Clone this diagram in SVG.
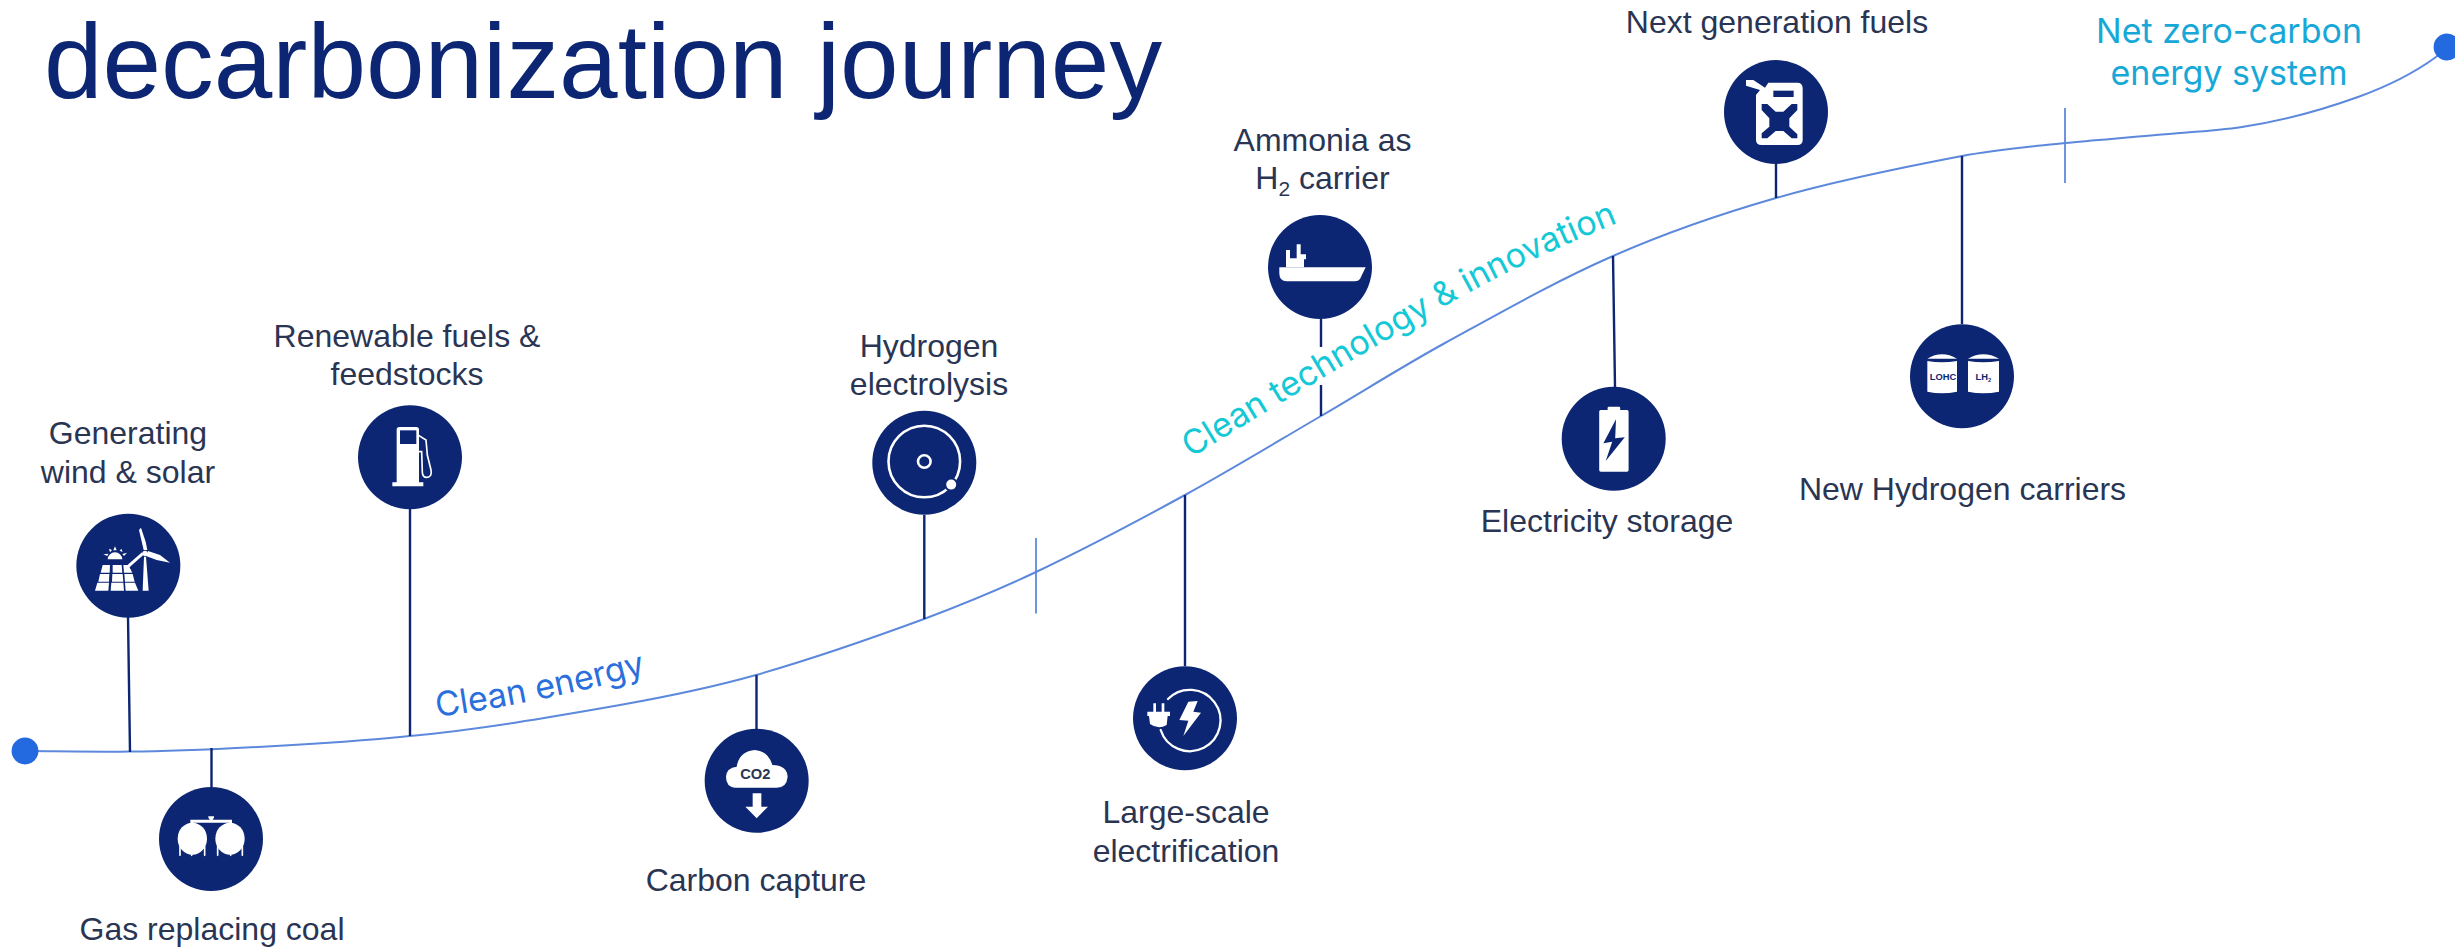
<svg xmlns="http://www.w3.org/2000/svg" width="2455" height="947" viewBox="0 0 2455 947">
<style>
text{font-family:"Liberation Sans",Arial,sans-serif}
.lb{font-size:32px;fill:#2a3553;text-anchor:middle}
.cap{font-family:Inter,"Liberation Sans",sans-serif;font-size:34px}
.disc{fill:#0c2673}
.w{fill:#fff}
.n{fill:#0c2673}
.ws{fill:none;stroke:#fff;stroke-linecap:round}
.stem{stroke:#0c2673;stroke-width:2.4;fill:none}
.tick{stroke:#5d89dc;stroke-width:1.8;fill:none}
.dot{fill:#2369e0}
.ic{font-weight:bold;text-anchor:middle}
</style>
<rect width="2455" height="947" fill="#fff"/>
<defs>
<path id="p-energy" d="M437,717 Q540,703 650,673"/>
<path id="p-tech" d="M1191,458 C1255,418 1365,352 1445,306 C1505,272 1565,243 1640,214"/>
</defs>
<text id="title" x="44" y="98" font-size="105.3" fill="#0c2673">decarbonization journey</text>
<g id="connectors">
<path d="M25,751 C42,751 95,751.8 130,751.6 C190,751.5 330,744 410,736 C480,729.4 550,717.3 620,705 C665,697 711,687.7 756,675 C812,659 868,639.6 924,619 C961,605 999,589.6 1036,572 C1086,548.3 1135,522.4 1185,495 C1230,470.4 1276,442.3 1321,416 C1362,392 1404,365.5 1445,343 C1501,312.3 1557,280.5 1613,256 C1667,232.2 1722,213.5 1776,198 C1838,180.2 1900,167.8 1962,156 C1996,149.5 2031,146.7 2065,143 C2095,139.8 2126,138 2156,135 C2185,132.2 2213,131.3 2242,127 C2281,121.2 2319,111 2358,97 C2384,87.6 2410,76 2436,57 L2447,47" fill="none" stroke="#5d89dc" stroke-width="2"/>
<path class="tick" d="M1036,538V613.5M2065,108V183"/>
<path class="stem" d="M128,617L130,752M410,509V736M211.5,748V787M756.5,675V729M924.3,515V619M1185,495V666M1321,319V347M1321,385V416M1613,256L1615,387M1776,164V198M1962,156V324"/>
</g>
<g id="node-wind">
<g transform="translate(60,500) scale(.33333)">
<circle class="disc" cx="205" cy="197" r="156"/>
<path class="w" d="M105,272L112,248H147L145,272ZM152,272L154,248H190L192,272ZM197,272L195,248H225L235,272ZM115,245L120,222H148L147,245ZM156,245L157,222H188L190,245ZM195,245L193,222H218L224,245ZM122,218L128,195H150L149,218ZM158,218L158,195H185L187,218ZM192,218L190,195H205L217,218Z"/>
<path class="w" d="M143,178A21,20 0 0 1 187,178ZM130,163L145,161L142,168ZM147,146L156,150L150,157ZM165,139L170,151H160ZM184,146L188,156L179,152ZM201,158L192,168L187,162Z"/>
<path class="w" d="M248,272L252,170H258L266,272ZM251,150L237,90L243,83L257,125L262,150ZM264,153L300,165L330,188L290,180L258,168ZM250,165L205,205L195,210L205,193L246,157Z"/>
<circle class="w" cx="255" cy="160" r="8"/>
</g>
<text class="lb" x="128" y="444">Generating</text>
<text class="lb" x="128" y="482.6">wind &amp; solar</text>
</g>
<g id="node-gas">
<g transform="translate(150,780) scale(.33333)">
<circle class="disc" cx="183" cy="177" r="156"/>
<ellipse class="w" cx="127" cy="176" rx="44" ry="48"/>
<ellipse class="w" cx="240" cy="176" rx="44" ry="48"/>
<path class="w" d="M121,119H246V136H238V128H129V136H121ZM175,109H192V113L187,120H180L175,113Z"/>
<path class="ws" stroke-width="5" d="M90,200V226M164,200V226M203,200V226M277,200V226M125,212V226M242,212V226"/>
</g>
<text class="lb" x="212" y="939.7">Gas replacing coal</text>
</g>
<g id="node-pump">
<g transform="translate(345,395) scale(.33333)">
<circle class="disc" cx="195" cy="187" r="156"/>
<path class="w" d="M155,104Q155,96 163,96H214Q222,96 222,104V262H235V274H142V262H155Z"/>
<rect class="n" x="165" y="106" width="49" height="41"/>
<path class="ws" stroke-width="5" d="M222,122L243,135L247,180L258,225Q262,246 245,247Q233,247 232,232L230,170H222"/>
</g>
<text class="lb" x="407" y="346.7">Renewable fuels &amp;</text>
<text class="lb" x="407" y="384.7">feedstocks</text>
</g>
<g id="node-co2">
<g transform="translate(690,715) scale(.33333)">
<circle class="disc" cx="200" cy="197" r="156"/>
<path class="w" d="M135,218Q108,215 108,185Q110,158 140,155Q148,108 195,105Q235,108 247,150Q290,150 293,185Q290,218 260,218Z"/>
<path class="w" d="M188,235H214V275H234L200,310L166,275H188Z"/>
<text class="ic" x="196" y="191" font-size="44" fill="#2a3553">CO2</text>
</g>
<text class="lb" x="756" y="890.5">Carbon capture</text>
</g>
<g id="node-electrolysis">
<circle class="disc" cx="924.3" cy="462.7" r="52"/>
<circle cx="924.3" cy="461.5" r="35.8" fill="none" stroke="#fff" stroke-width="2.6"/>
<circle cx="924.3" cy="461.5" r="6.3" fill="none" stroke="#fff" stroke-width="2.6"/>
<circle cx="951.2" cy="484.6" r="6" fill="#fff" stroke="#0c2673" stroke-width="2"/>
<text class="lb" x="929" y="356.7">Hydrogen</text>
<text class="lb" x="929" y="395">electrolysis</text>
</g>
<g id="node-electrification">
<g transform="translate(1120,650) scale(.33333)">
<circle class="disc" cx="195" cy="205" r="156"/>
<path class="ws" stroke-width="7" d="M144,147A92,92 0 1 1 122,240"/>
<path class="w" d="M100,160H108V185H125V160H133V185H150V198H143L140,225Q115,240 90,222L87,198H82V185H100Z"/>
<path class="w" d="M205,155L233,153L220,185L243,188L190,258L205,212L178,210Z"/>
</g>
<text class="lb" x="1186" y="823">Large-scale</text>
<text class="lb" x="1186" y="861.5">electrification</text>
</g>
<g id="node-ship">
<g transform="translate(1255,205) scale(.33333)">
<circle class="disc" cx="195" cy="186" r="156"/>
<path class="w" d="M73,187H332L315,222Q310,229 300,229H95Q73,229 73,205Z"/>
<path class="w" d="M93,187V135H105V160H125V118H137V148H153V163H147V187Z"/>
</g>
<text class="lb" x="1322.5" y="150.7">Ammonia as</text>
<text class="lb" x="1322.5" y="188.7">H<tspan font-size="21" dy="7">2</tspan><tspan dy="-7"> carrier</tspan></text>
</g>
<g id="node-battery">
<circle class="disc" cx="1613.7" cy="438.7" r="52"/>
<path class="w" d="M1607.6,410V408Q1607.6,406.7 1609,406.7H1619Q1620.2,406.7 1620.2,408V410H1627Q1628.6,410 1628.6,411.5V470Q1628.6,471.7 1627,471.7H1600.8Q1599.2,471.7 1599.2,470V411.5Q1599.2,410 1600.8,410Z"/>
<path class="n" d="M1616,419.3L1603.4,443.3L1612.2,441.7L1605.7,461L1624.8,437.3L1615.2,438.3Z"/>
<text class="lb" x="1607" y="531.7">Electricity storage</text>
</g>
<g id="node-jerrycan">
<g transform="translate(1710,45) scale(.33333)">
<circle class="disc" cx="198" cy="201" r="156"/>
<path class="w" d="M175,113H262Q278,113 278,130V285Q278,300 262,300H155Q138,300 138,285V150L150,135L108,122V105H130L165,128Z"/>
<rect class="n" x="190" y="137" width="61" height="19"/>
<path class="n" d="M172,177L197,200H220L245,177H262V195L238,220V245L262,268V280H245L220,258H197L172,280H155V265L178,245V220L155,195V177Z"/>
</g>
<text class="lb" x="1777" y="32.7">Next generation fuels</text>
</g>
<g id="node-carriers">
<g transform="translate(1895,310) scale(.33333)">
<circle class="disc" cx="201" cy="199" r="156"/>
<path class="w" d="M97,146Q141,120 186,146ZM97,153Q141,161 186,153V245Q141,255 97,245ZM219,146Q265,120 312,146ZM219,153Q265,161 312,153V245Q265,255 219,245Z"/>
<text class="ic" x="144" y="210" font-size="28" fill="#0c2673">LOHC</text>
<text class="ic" x="265" y="210" font-size="28" fill="#0c2673">LH<tspan font-size="17" dy="5">2</tspan></text>
</g>
<text class="lb" x="1962.5" y="500">New Hydrogen carriers</text>
</g>
<g id="ends">
<circle class="dot" cx="25" cy="751" r="13.4"/>
<circle class="dot" cx="2447" cy="47" r="13.4"/>
</g>
<text class="cap" fill="#2a6fdb"><textPath href="#p-energy">Clean energy</textPath></text>
<text class="cap" fill="#14c8d6"><textPath href="#p-tech">Clean technology &amp; innovation</textPath></text>
<text class="cap" x="2229" y="43" fill="#17a8d8" text-anchor="middle">Net zero-carbon</text>
<text class="cap" x="2229" y="85" fill="#17a8d8" text-anchor="middle">energy system</text>
</svg>
